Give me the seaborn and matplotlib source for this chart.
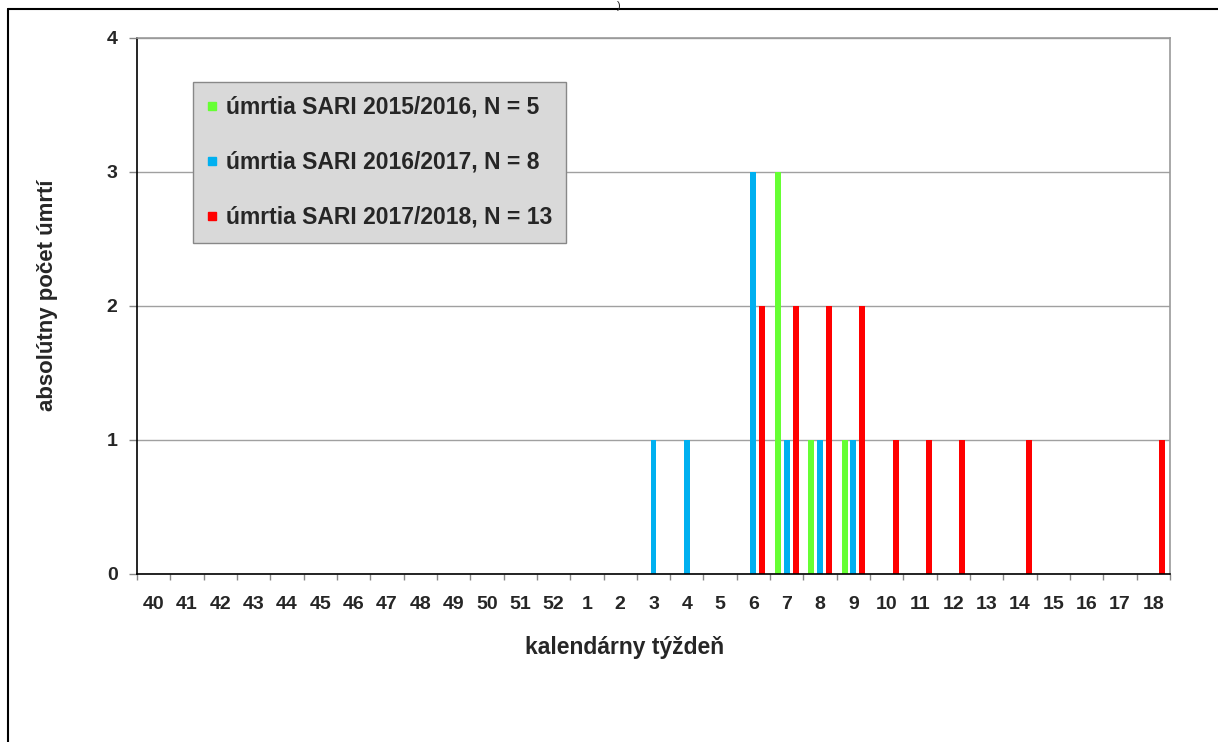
import matplotlib
matplotlib.use("Agg")
import matplotlib.pyplot as plt
from matplotlib.lines import Line2D
from matplotlib.ticker import FixedLocator
import numpy as np
import pandas as pd
import seaborn as sns

weeks = [str(w) for w in list(range(40, 53)) + list(range(1, 19))]
seasons = ["úmrtia SARI 2015/2016, N = 5",
           "úmrtia SARI 2016/2017, N = 8",
           "úmrtia SARI 2017/2018, N = 13"]
colors = ["#66ff33", "#00b0f0", "#ff0000"]

# deaths per calendar week (only non-zero weeks listed)
deaths_1516 = {"7": 3, "8": 1, "9": 1}
deaths_1617 = {"3": 1, "4": 1, "6": 3, "7": 1, "8": 1, "9": 1}
deaths_1718 = {"6": 2, "7": 2, "8": 2, "9": 2, "10": 1, "11": 1, "12": 1, "14": 1, "18": 1}

rows = []
for season, counts in zip(seasons, [deaths_1516, deaths_1617, deaths_1718]):
    for w in weeks:
        rows.append({"week": w, "season": season, "count": counts.get(w, 0)})
df = pd.DataFrame(rows)

sns.set_style("white")
plt.rcParams["font.family"] = ["Liberation Sans", "DejaVu Sans"]
plt.rcParams["font.weight"] = "bold"

W, H = 1218, 742
fig = plt.figure(figsize=(W / 100, H / 100), dpi=100)
ax = fig.add_axes([137 / W, 1 - 574 / H, (1170 - 137) / W, (574 - 38) / H])

sns.barplot(data=df, x="week", y="count", hue="season", order=weeks,
            hue_order=seasons, palette=colors, saturation=1, width=0.8,
            gap=0.325, linewidth=0, errorbar=None, ax=ax, legend=False)

ax.set_xlim(-0.5, len(weeks) - 0.5)
ax.set_ylim(0, 4)
ax.set_yticks([0, 1, 2, 3, 4])
ax.yaxis.grid(True, color="#a0a0a0", linewidth=1)
ax.set_axisbelow(True)

for side in ["top", "right"]:
    ax.spines[side].set_visible(True)
    ax.spines[side].set_color("#999999")
    ax.spines[side].set_linewidth(1.2)
for side in ["left", "bottom"]:
    ax.spines[side].set_color("black")
    ax.spines[side].set_linewidth(1.2)

ax.tick_params(axis="x", which="major", length=0, pad=16, labelsize=14)
ax.xaxis.set_minor_locator(FixedLocator(np.arange(-0.5, len(weeks), 1)))
ax.tick_params(axis="x", which="minor", length=4, width=1, color="#888888",
               direction="out", bottom=True)
ax.tick_params(axis="y", length=6, width=1, color="#888888", pad=8,
               labelsize=14, left=True)
for lab in ax.get_xticklabels() + ax.get_yticklabels():
    lab.set_fontweight("bold")

ax.set_xlabel("kalendárny týždeň", fontsize=16.5, fontweight="bold")
ax.set_ylabel("absolútny počet úmrtí", fontsize=16, fontweight="bold")
ax.xaxis.set_label_coords(0.472, -0.116)
ax.yaxis.set_label_coords(-0.076, 0.52)

handles = [Line2D([0], [0], marker="s", linestyle="none", markersize=6,
                  markerfacecolor=c, markeredgecolor=c) for c in colors]
leg = ax.legend(handles, seasons, loc="upper left",
                bbox_to_anchor=(193 / W, 1 - 82 / H),
                bbox_transform=fig.transFigure, frameon=True, fancybox=False,
                facecolor="#d9d9d9", edgecolor="#888888", framealpha=1,
                prop={"size": 16.5, "weight": "bold"}, handlelength=0.5,
                handletextpad=0.35, labelspacing=1.4, borderpad=0.6,
                borderaxespad=0)
leg.get_frame().set_linewidth(1)

# outer chart frame (partially cropped)
fig.add_artist(Line2D([8 / W, 8 / W], [0, 1 - 9 / H], transform=fig.transFigure,
                      color="black", linewidth=1.5))
fig.add_artist(Line2D([8 / W, 1], [1 - 9 / H, 1 - 9 / H], transform=fig.transFigure,
                      color="black", linewidth=1.5))
fig.text(619 / W, 1 - 1 / H, ")", fontsize=8, ha="center", va="top",
         fontweight="normal")

fig.savefig("out.png", dpi=100)
